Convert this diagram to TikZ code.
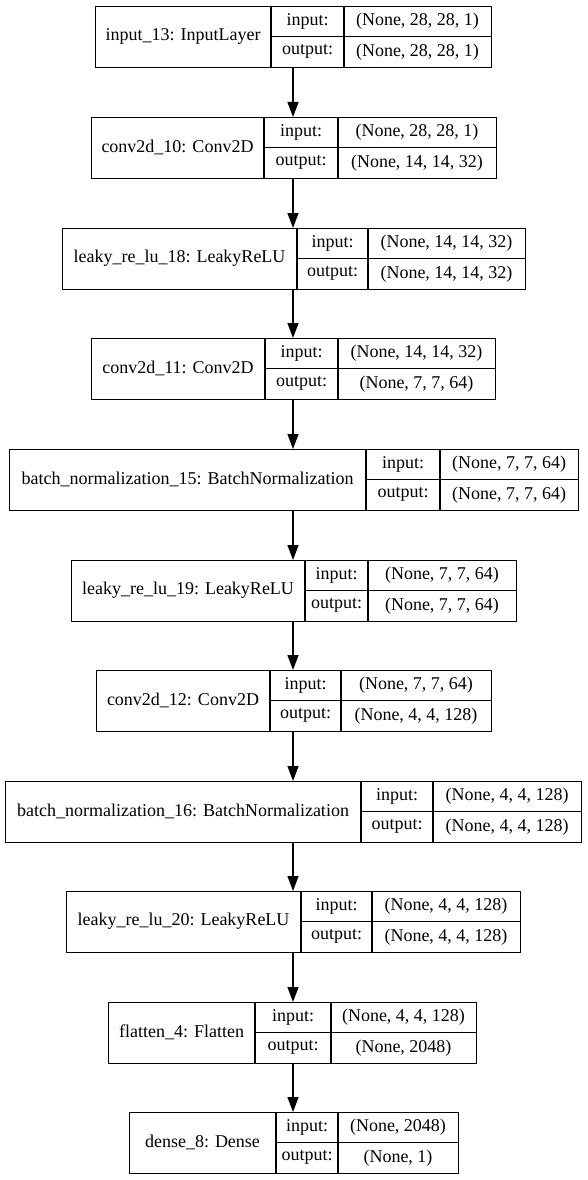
\documentclass[tikz,border=0pt]{standalone}
\usepackage{fontspec}
\setmainfont{Liberation Serif}
\usetikzlibrary{arrows.meta}
\tikzset{
  box/.style={draw, line width=1.3pt, minimum height=61pt, inner sep=0pt, anchor=north west},
  sep/.style={line width=1.3pt},
  txt/.style={inner sep=0pt, font=\fontsize{18}{20}\selectfont},
  arr/.style={line width=1.3pt, -{Triangle[length=15pt,width=11pt]}}
}
% #1 name, #2 x left, #3 y top, #4 divider 1, #5 divider 2, #6 x right, #7 label, #8 input, #9 output
\newcommand\klayer[9]{%
  \node[box, minimum width={#6pt-#2pt}] (#1) at (#2,-#3) {};
  \draw[sep] (#4,-#3) -- (#4,{-#3-61});
  \draw[sep] (#5,-#3) -- (#5,{-#3-61});
  \draw[sep] (#4,{-#3-30.5}) -- (#6,{-#3-30.5});
  \node[txt] (#1-lab) at ({(#2+#4)/2},{-#3-30.5}) {#7};
  \node[txt] (#1-inl) at ({(#4+#5)/2},{-#3-15.25}) {input:};
  \node[txt] (#1-outl) at ({(#4+#5)/2},{-#3-45.75}) {output:};
  \node[txt] (#1-inv) at ({(#5+#6)/2},{-#3-15.25}) {#8};
  \node[txt] (#1-outv) at ({(#5+#6)/2},{-#3-45.75}) {#9};
}
\begin{document}
\begin{tikzpicture}[x=1pt,y=1pt]
\useasboundingbox (0,0) rectangle (587,-1180);
\fill[white] (0,0) rectangle (587,-1180);
\klayer{n1}{95}{6}{271}{344}{491}{input\_13: InputLayer}{(None, 28, 28, 1)}{(None, 28, 28, 1)}
\klayer{n2}{91}{117}{264}{338}{496}{conv2d\_10: Conv2D}{(None, 28, 28, 1)}{(None, 14, 14, 32)}
\klayer{n3}{62}{228}{297}{368}{525}{leaky\_re\_lu\_18: LeakyReLU}{(None, 14, 14, 32)}{(None, 14, 14, 32)}
\klayer{n4}{91}{338}{265}{338}{495}{conv2d\_11: Conv2D}{(None, 14, 14, 32)}{(None, 7, 7, 64)}
\klayer{n5}{9}{449}{366}{440}{578}{batch\_normalization\_15: BatchNormalization}{(None, 7, 7, 64)}{(None, 7, 7, 64)}
\klayer{n6}{71}{560}{305}{368}{516}{leaky\_re\_lu\_19: LeakyReLU}{(None, 7, 7, 64)}{(None, 7, 7, 64)}
\klayer{n7}{96}{670}{270}{341}{491}{conv2d\_12: Conv2D}{(None, 7, 7, 64)}{(None, 4, 4, 128)}
\klayer{n8}{5}{781}{361}{433}{581}{batch\_normalization\_16: BatchNormalization}{(None, 4, 4, 128)}{(None, 4, 4, 128)}
\klayer{n9}{66}{891}{301}{372}{520}{leaky\_re\_lu\_20: LeakyReLU}{(None, 4, 4, 128)}{(None, 4, 4, 128)}
\klayer{n10}{108}{1002}{255}{331}{476}{flatten\_4: Flatten}{(None, 4, 4, 128)}{(None, 2048)}
\klayer{n11}{129}{1112}{276}{338}{458}{dense\_8: Dense}{(None, 2048)}{(None, 1)}
\foreach \a/\b in {n1/n2,n2/n3,n3/n4,n4/n5,n5/n6,n6/n7,n7/n8,n8/n9,n9/n10,n10/n11}
  \draw[arr] (\a.south -| 293,0) -- (\b.north -| 293,0);
\end{tikzpicture}
\end{document}
